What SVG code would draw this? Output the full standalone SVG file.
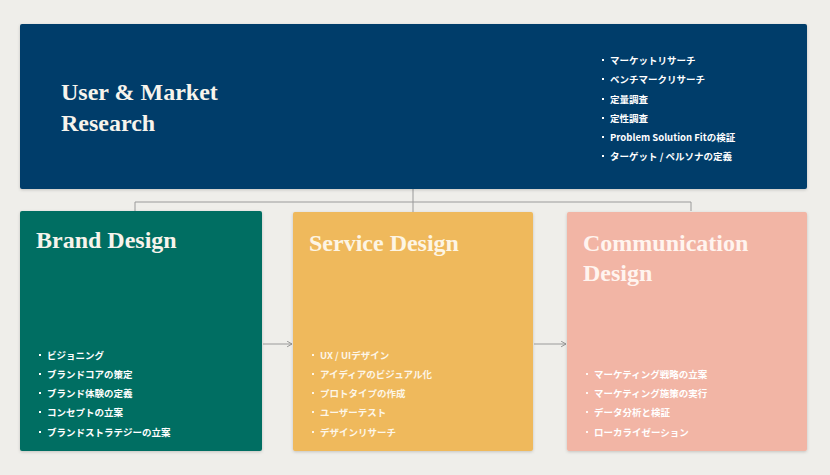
<svg xmlns="http://www.w3.org/2000/svg" width="830" height="475" viewBox="0 0 830 475">
<defs>
<filter id="sh" x="-5%" y="-5%" width="110%" height="115%">
<feDropShadow dx="0" dy="1" stdDeviation="1.5" flood-color="#000" flood-opacity="0.18"/>
</filter>
<marker id="arr" viewBox="0 0 10 10" refX="9" refY="5" markerWidth="7" markerHeight="7" orient="auto" markerUnits="userSpaceOnUse">
<path d="M2,1 L9,5 L2,9" fill="none" stroke="#8c8c8c" stroke-width="1.3"/>
</marker>
</defs>
<style>
.title{font-family:"Liberation Serif","DejaVu Serif",serif;font-weight:bold;font-size:24px;}
.li{font-family:"Noto Sans CJK JP","Noto Sans",sans-serif;font-weight:bold;font-size:9.5px;fill:#ffffff;}
.conn{fill:none;stroke:#9a9a9a;stroke-width:1;}
</style>
<rect width="830" height="475" fill="#efeeea"/>
<g id="connectors">
<path class="conn" d="M413,189 V202 M135,211 V202 H691 V211 M413,202 V212"/>
<path class="conn" d="M263,344 H292" marker-end="url(#arr)"/>
<path class="conn" d="M534,344 H566" marker-end="url(#arr)"/>
</g>
<g id="research">
<rect x="20" y="24" width="787" height="165" rx="2" fill="#013e6a" filter="url(#sh)"/>
<text class="title" fill="#f7f4ec"><tspan x="61" y="100">User &amp; Market</tspan><tspan x="61" y="131">Research</tspan></text>
<g fill="#ffffff">
<rect x="602" y="59" width="2" height="2"/><rect x="602" y="78" width="2" height="2"/><rect x="602" y="98" width="2" height="2"/><rect x="602" y="117" width="2" height="2"/><rect x="602" y="136" width="2" height="2"/><rect x="602" y="155" width="2" height="2"/>
</g>
<text class="li" x="610" y="63.5">マーケットリサーチ</text>
<text class="li" x="610" y="82.5">ベンチマークリサーチ</text>
<text class="li" x="610" y="102.5">定量調査</text>
<text class="li" x="610" y="121.5">定性調査</text>
<text class="li" x="610" y="140.5">Problem Solution Fitの検証</text>
<text class="li" x="610" y="159.5">ターゲット / ペルソナの定義</text>
</g>
<g id="brand">
<rect x="20" y="211" width="242" height="240" rx="2" fill="#006e62" filter="url(#sh)"/>
<text class="title" x="36" y="248" fill="#f7f4ec">Brand Design</text>
<g fill="#ffffff">
<rect x="39" y="354" width="2" height="2"/><rect x="39" y="373" width="2" height="2"/><rect x="39" y="392" width="2" height="2"/><rect x="39" y="411" width="2" height="2"/><rect x="39" y="431" width="2" height="2"/>
</g>
<text class="li" x="47" y="358.5">ビジョニング</text>
<text class="li" x="47" y="377.5">ブランドコアの策定</text>
<text class="li" x="47" y="396.5">ブランド体験の定義</text>
<text class="li" x="47" y="415.5">コンセプトの立案</text>
<text class="li" x="47" y="435.5">ブランドストラテジーの立案</text>
</g>
<g id="service">
<rect x="293" y="212" width="240" height="239" rx="2" fill="#efb95c" filter="url(#sh)"/>
<text class="title" x="309" y="251" fill="#fdf5e4">Service Design</text>
<g fill="#fdf5e4">
<rect x="312" y="354" width="2" height="2"/><rect x="312" y="373" width="2" height="2"/><rect x="312" y="392" width="2" height="2"/><rect x="312" y="411" width="2" height="2"/><rect x="312" y="431" width="2" height="2"/>
</g>
<g style="fill:#fdf6e8">
<text class="li" x="320" y="358.5" style="fill:#fdf6e8">UX / UIデザイン</text>
<text class="li" x="320" y="377.5" style="fill:#fdf6e8">アイディアのビジュアル化</text>
<text class="li" x="320" y="396.5" style="fill:#fdf6e8">プロトタイプの作成</text>
<text class="li" x="320" y="415.5" style="fill:#fdf6e8">ユーザーテスト</text>
<text class="li" x="320" y="435.5" style="fill:#fdf6e8">デザインリサーチ</text>
</g>
</g>
<g id="communication">
<rect x="567" y="212" width="240" height="239" rx="2" fill="#f2b5a5" filter="url(#sh)"/>
<text class="title" fill="#fff4ef"><tspan x="583" y="251">Communication</tspan><tspan x="583" y="281">Design</tspan></text>
<g fill="#fff4ef">
<rect x="586" y="373" width="2" height="2"/><rect x="586" y="392" width="2" height="2"/><rect x="586" y="411" width="2" height="2"/><rect x="586" y="431" width="2" height="2"/>
</g>
<text class="li" x="594" y="377.5">マーケティング戦略の立案</text>
<text class="li" x="594" y="396.5">マーケティング施策の実行</text>
<text class="li" x="594" y="415.5">データ分析と検証</text>
<text class="li" x="594" y="435.5">ローカライゼーション</text>
</g>
</svg>
